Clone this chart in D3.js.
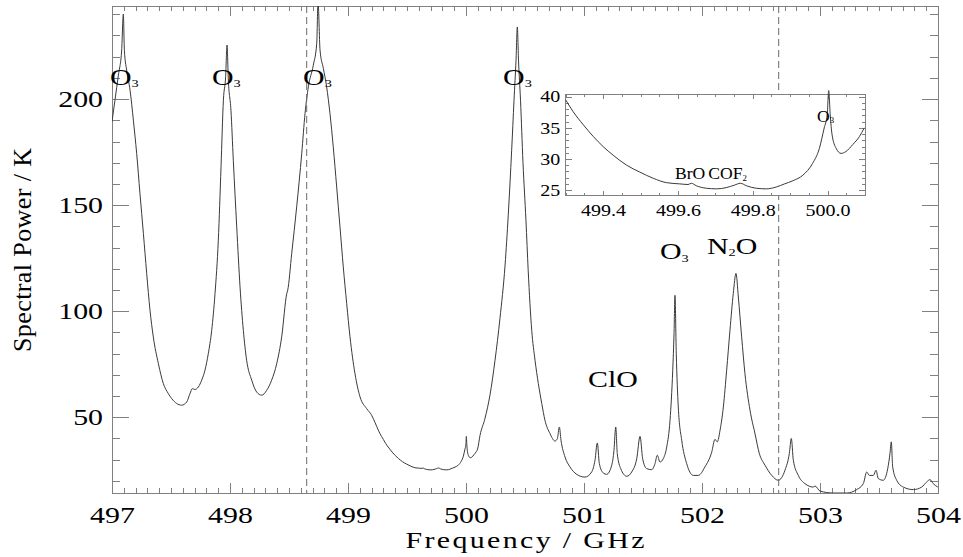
<!DOCTYPE html>
<html>
<head>
<meta charset="utf-8">
<script src="https://cdn.jsdelivr.net/npm/d3@7"></script>
<style>
body { margin: 0; background: #fff; }
svg text { font-family: "Liberation Serif", "Times New Roman", serif; fill: #000; }
</style>
</head>
<body>
<div id="chart"></div>
<script>
// spectrum: [frequency GHz, spectral power K]
var spectrumPoints = [
    [497.000, 189.3], [497.025, 199.5], [497.054, 211.3], [497.082, 223.1], [497.096, 240.1],
    [497.105, 223.0], [497.124, 213.7], [497.153, 204.2], [497.181, 190.1], [497.209, 174.4],
    [497.237, 155.5], [497.266, 136.7], [497.294, 117.8], [497.322, 100.5], [497.350, 87.9],
    [497.393, 75.3], [497.435, 65.9], [497.477, 61.2], [497.506, 58.8], [497.548, 56.5],
    [497.590, 55.7], [497.633, 57.2], [497.661, 61.2], [497.681, 63.5], [497.703, 63.1],
    [497.732, 64.3], [497.760, 67.5], [497.788, 72.2], [497.816, 80.0], [497.845, 91.0],
    [497.873, 108.3], [497.901, 133.5], [497.924, 168.1], [497.944, 199.5], [497.963, 210.5],
    [497.975, 225.5], [497.986, 209.0], [498.008, 194.8], [498.028, 171.2], [498.057, 139.8],
    [498.085, 111.5], [498.113, 91.0], [498.141, 76.9], [498.184, 67.5], [498.226, 61.9],
    [498.269, 60.4], [498.311, 62.7], [498.353, 67.5], [498.396, 75.3], [498.438, 87.9],
    [498.481, 108.3], [498.489, 109.9], [498.523, 127.2], [498.565, 149.2], [498.608, 174.4],
    [498.636, 193.3], [498.664, 205.8], [498.706, 216.0], [498.735, 226.3], [498.746, 246.0],
    [498.763, 223.1], [498.791, 214.5], [498.819, 205.8], [498.847, 193.3], [498.875, 177.5],
    [498.904, 158.6], [498.932, 139.8], [498.960, 120.9], [498.989, 103.6], [499.017, 87.9],
    [499.059, 70.6], [499.102, 59.6], [499.158, 54.1], [499.201, 50.9], [499.214, 49.4],
    [499.271, 42.3],
    [499.300, 39.5], [499.320, 37.6], [499.347, 35.5], [499.374, 33.6], [499.400, 32.0],
    [499.427, 30.6], [499.463, 29.0], [499.498, 27.9], [499.534, 26.9], [499.569, 26.2],
    [499.605, 26.0], [499.627, 25.9], [499.636, 26.1], [499.649, 25.7], [499.676, 25.3],
    [499.703, 25.2], [499.729, 25.4], [499.751, 25.8], [499.767, 26.1], [499.783, 25.7],
    [499.809, 25.3], [499.836, 25.2], [499.863, 25.5], [499.885, 26.0], [499.907, 26.5],
    [499.934, 27.4], [499.960, 29.3], [499.978, 31.7], [499.991, 35.0], [499.999, 37.1],
    [500.003, 41.0], [500.007, 37.1], [500.012, 33.9], [500.023, 31.7], [500.036, 30.9],
    [500.049, 31.2], [500.067, 32.3], [500.085, 33.6], [500.098, 35.0],
    [500.119, 41.5], [500.161, 49.5], [500.203, 60.4], [500.246, 76.9], [500.288, 96.7],
    [500.331, 121.7], [500.358, 145.3], [500.387, 175.9], [500.407, 199.5], [500.424, 218.4],
    [500.435, 234.0], [500.445, 218.4], [500.462, 199.5], [500.483, 170.0], [500.508, 142.9],
    [500.527, 119.3], [500.557, 91.0], [500.585, 76.9], [500.613, 65.9], [500.642, 56.5],
    [500.669, 48.6], [500.712, 42.3], [500.754, 38.8], [500.774, 39.9], [500.791, 45.4],
    [500.805, 39.2], [500.839, 31.3], [500.881, 26.6], [500.938, 23.1], [501.008, 21.8],
    [501.065, 24.2], [501.093, 29.7], [501.113, 37.9], [501.130, 28.2], [501.164, 23.7],
    [501.192, 23.1], [501.235, 27.4], [501.254, 34.4], [501.269, 45.4], [501.282, 32.9],
    [501.311, 25.8], [501.362, 22.2], [501.404, 24.2], [501.447, 30.5], [501.475, 41.0],
    [501.497, 30.5], [501.531, 25.8], [501.574, 25.3], [501.602, 28.2], [501.621, 32.1],
    [501.644, 28.9], [501.672, 30.5], [501.701, 36.0], [501.729, 48.6], [501.752, 72.2],
    [501.763, 89.5], [501.771, 107.5], [501.782, 80.0], [501.799, 54.9], [501.828, 39.2],
    [501.870, 28.2], [501.926, 22.6], [501.969, 22.6], [502.025, 26.6], [502.082, 33.5],
    [502.110, 39.6], [502.130, 38.4], [502.153, 43.9], [502.181, 54.9], [502.209, 72.2],
    [502.237, 91.0], [502.265, 108.3], [502.288, 117.8], [502.308, 106.7], [502.336, 87.9],
    [502.364, 70.6], [502.407, 53.3], [502.449, 42.3], [502.486, 32.9], [502.534, 27.4],
    [502.591, 22.6], [502.647, 20.3], [502.703, 25.0], [502.740, 32.9], [502.757, 40.0],
    [502.774, 29.7], [502.816, 22.6], [502.873, 18.7], [502.943, 17.1], [502.958, 17.6],
    [503.000, 15.2], [503.113, 14.3], [503.226, 14.3], [503.311, 15.9], [503.367, 18.7],
    [503.396, 24.2], [503.418, 22.6], [503.452, 22.6], [503.475, 25.0], [503.494, 21.1],
    [503.536, 20.3], [503.574, 25.8], [503.593, 32.9], [503.604, 38.4], [503.616, 26.6],
    [503.650, 20.3], [503.706, 17.1], [503.791, 15.9], [503.862, 17.1], [503.904, 19.5],
    [503.932, 20.6], [503.960, 18.7], [503.998, 17.1]
];

var xTicks = [497, 498, 499, 500, 501, 502, 503, 504];
var yTicks = [50, 100, 150, 200];
var insetXTicks = [499.4, 499.6, 499.8, 500.0];
var insetYTicks = [25, 30, 35, 40];
var markerGHz = [498.65, 502.65];

// "_" marks the next character as a subscript
var speciesLabels = [
    { text: "O_3", f: 496.983, v: 206.6 },
    { text: "O_3", f: 497.847, v: 206.6 },
    { text: "O_3", f: 498.619, v: 206.6 },
    { text: "O_3", f: 500.314, v: 206.6 },
    { text: "ClO", f: 501.034, v: 64.3 },
    { text: "O_3", f: 501.644, v: 124.4 },
    { text: "N_2O", f: 502.042, v: 126.9 },
];
var insetLabels = [
    { text: "BrO", f: 499.592, v: 26.78 },
    { text: "COF_2", f: 499.681, v: 26.78 },
    { text: "O_3", f: 499.972, v: 36.0 },
];

var frameColor = "#808080";
var lineColor = "#3a3a3a";

var svg = d3
    .select("#chart")
    .append("svg")
    .attr("width", 963)
    .attr("height", 557);

var x = d3.scaleLinear().domain([497, 504]).range([112, 938]);
var y = d3.scaleLinear().domain([14.3, 243.9]).range([493, 6]);

var insetX = d3.scaleLinear().domain([499.3, 500.1]).range([565.7, 865]);
var insetY = d3.scaleLinear().domain([24.1, 40.4]).range([195.7, 94.3]);

function axisLayer(axis, transform) {
    var g = svg.append("g").attr("transform", transform).call(axis);
    g.attr("font-family", null).attr("font-size", null);
    g.select(".domain").remove();
    g.selectAll("line").attr("stroke", frameColor).attr("shape-rendering", "crispEdges");
    return g;
}

// stretched serif text, like the original IDL output
function addLabel(px, py, str, size, stretch) {
    var t = svg
        .append("text")
        .attr("font-size", size)
        .attr("transform", "translate(" + px + "," + py + ") scale(" + stretch + ",1)");
    var parts = str.split("_");
    t.append("tspan").text(parts[0]);
    for (var i = 1; i < parts.length; i++) {
        t.append("tspan")
            .attr("font-size", Math.round(size * 0.47))
            .attr("dy", size * 0.1)
            .text(parts[i][0]);
        if (parts[i].length > 1) {
            t.append("tspan").attr("dy", -size * 0.1).text(parts[i].slice(1));
        }
    }
    return t;
}

// ---- main plot frame and ticks
svg.append("rect")
    .attr("x", x.range()[0])
    .attr("y", y.range()[1])
    .attr("width", x.range()[1] - x.range()[0])
    .attr("height", y.range()[0] - y.range()[1])
    .attr("fill", "none")
    .attr("stroke", frameColor)
    .attr("shape-rendering", "crispEdges");

var xMinor = x.ticks(70);
var yMinor = y.ticks(23);

axisLayer(d3.axisBottom(x).tickValues(xMinor).tickSize(-4.9).tickFormat(""), "translate(0,493)");
axisLayer(d3.axisTop(x).tickValues(xMinor).tickSize(-4.9).tickFormat(""), "translate(0,6)");
axisLayer(d3.axisTop(x).tickValues(xTicks).tickSize(-9.7).tickFormat(""), "translate(0,6)");
axisLayer(d3.axisLeft(y).tickValues(yMinor).tickSize(-8.3).tickFormat(""), "translate(112,0)");
axisLayer(d3.axisRight(y).tickValues(yMinor).tickSize(-8.3).tickFormat(""), "translate(938,0)");
axisLayer(d3.axisRight(y).tickValues(yTicks).tickSize(-16.5).tickFormat(""), "translate(938,0)");

var xAxis = axisLayer(
    d3.axisBottom(x).tickValues(xTicks).tickSize(-9.7).tickPadding(14).tickFormat(d3.format("d")),
    "translate(0,493)"
);
xAxis.selectAll("text").attr("font-size", 23).attr("transform", "scale(1.3,1)");

var yAxis = axisLayer(
    d3.axisLeft(y).tickValues(yTicks).tickSize(-16.5).tickPadding(9 / 1.3).tickFormat(d3.format("d")),
    "translate(112,0)"
);
yAxis.selectAll("text").attr("font-size", 23).attr("transform", "scale(1.3,1)");

// axis titles
svg.append("text")
    .attr("font-size", 23)
    .attr("text-anchor", "middle")
    .attr("transform", "translate(525,547.5) scale(1.3,1)")
    .attr("textLength", 239 / 1.3)
    .attr("lengthAdjust", "spacing")
    .text("Frequency / GHz");

svg.append("text")
    .attr("font-size", 26)
    .attr("text-anchor", "middle")
    .attr("transform", "translate(31,250) rotate(-90)")
    .attr("textLength", 204)
    .attr("lengthAdjust", "spacing")
    .text("Spectral Power / K");

// ---- spectrum
svg.append("clipPath")
    .attr("id", "plot-clip")
    .append("rect")
    .attr("x", 112)
    .attr("y", 6)
    .attr("width", 826)
    .attr("height", 487);

var line = d3
    .line()
    .curve(d3.curveMonotoneX)
    .x((d) => x(d[0]))
    .y((d) => y(d[1]));

svg.append("path")
    .datum(spectrumPoints)
    .attr("clip-path", "url(#plot-clip)")
    .attr("fill", "none")
    .attr("stroke", lineColor)
    .attr("stroke-width", 1)
    .attr("d", line);

// dashed band markers
svg.selectAll(".marker")
    .data(markerGHz)
    .enter()
    .append("line")
    .attr("class", "marker")
    .attr("x1", (d) => x(d))
    .attr("x2", (d) => x(d))
    .attr("y1", 6)
    .attr("y2", 493)
    .attr("stroke", "#6a6a6a")
    .attr("stroke-width", 1)
    .attr("stroke-dasharray", "7,4");

speciesLabels.forEach((d) => {
    addLabel(x(d.f), y(d.v), d.text, 23, 1.3);
});

// ---- inset
svg.append("rect")
    .attr("x", insetX.range()[0])
    .attr("y", insetY.range()[1])
    .attr("width", insetX.range()[1] - insetX.range()[0])
    .attr("height", insetY.range()[0] - insetY.range()[1])
    .attr("fill", "#fff")
    .attr("stroke", frameColor)
    .attr("shape-rendering", "crispEdges");

var iBottom = insetY.range()[0];
var iTop = insetY.range()[1];
var iLeft = insetX.range()[0];
var iRight = insetX.range()[1];

axisLayer(d3.axisBottom(insetX).tickValues(insetX.ticks(16)).tickSize(-2.5).tickFormat(""), "translate(0," + iBottom + ")");
axisLayer(d3.axisTop(insetX).tickValues(insetX.ticks(16)).tickSize(-2.5).tickFormat(""), "translate(0," + iTop + ")");
axisLayer(d3.axisTop(insetX).tickValues(insetXTicks).tickSize(-5).tickFormat(""), "translate(0," + iTop + ")");
axisLayer(d3.axisLeft(insetY).tickValues(insetY.ticks(16)).tickSize(-3).tickFormat(""), "translate(" + iLeft + ",0)");
axisLayer(d3.axisRight(insetY).tickValues(insetY.ticks(16)).tickSize(-3).tickFormat(""), "translate(" + iRight + ",0)");
axisLayer(d3.axisRight(insetY).tickValues(insetYTicks).tickSize(-6).tickFormat(""), "translate(" + iRight + ",0)");

var ixAxis = axisLayer(
    d3.axisBottom(insetX).tickValues(insetXTicks).tickSize(-5).tickPadding(8.5).tickFormat(d3.format(".1f")),
    "translate(0," + iBottom + ")"
);
ixAxis.selectAll("text").attr("font-size", 16).attr("transform", "scale(1.25,1)");

var iyAxis = axisLayer(
    d3.axisLeft(insetY).tickValues(insetYTicks).tickSize(-6).tickPadding(5.5 / 1.25).tickFormat(d3.format("d")),
    "translate(" + iLeft + ",0)"
);
iyAxis.selectAll("text").attr("font-size", 16).attr("transform", "scale(1.25,1)");

var insetPoints = spectrumPoints.filter((d) => d[0] >= 499.3 && d[0] <= 500.1);
var insetLine = d3
    .line()
    .curve(d3.curveMonotoneX)
    .x((d) => insetX(d[0]))
    .y((d) => insetY(d[1]));

svg.append("path")
    .datum(insetPoints)
    .attr("fill", "none")
    .attr("stroke", lineColor)
    .attr("stroke-width", 1)
    .attr("d", insetLine);

insetLabels.forEach((d) => {
    addLabel(insetX(d.f), insetY(d.v), d.text, 16, 1.1);
});
</script>
</body>
</html>
